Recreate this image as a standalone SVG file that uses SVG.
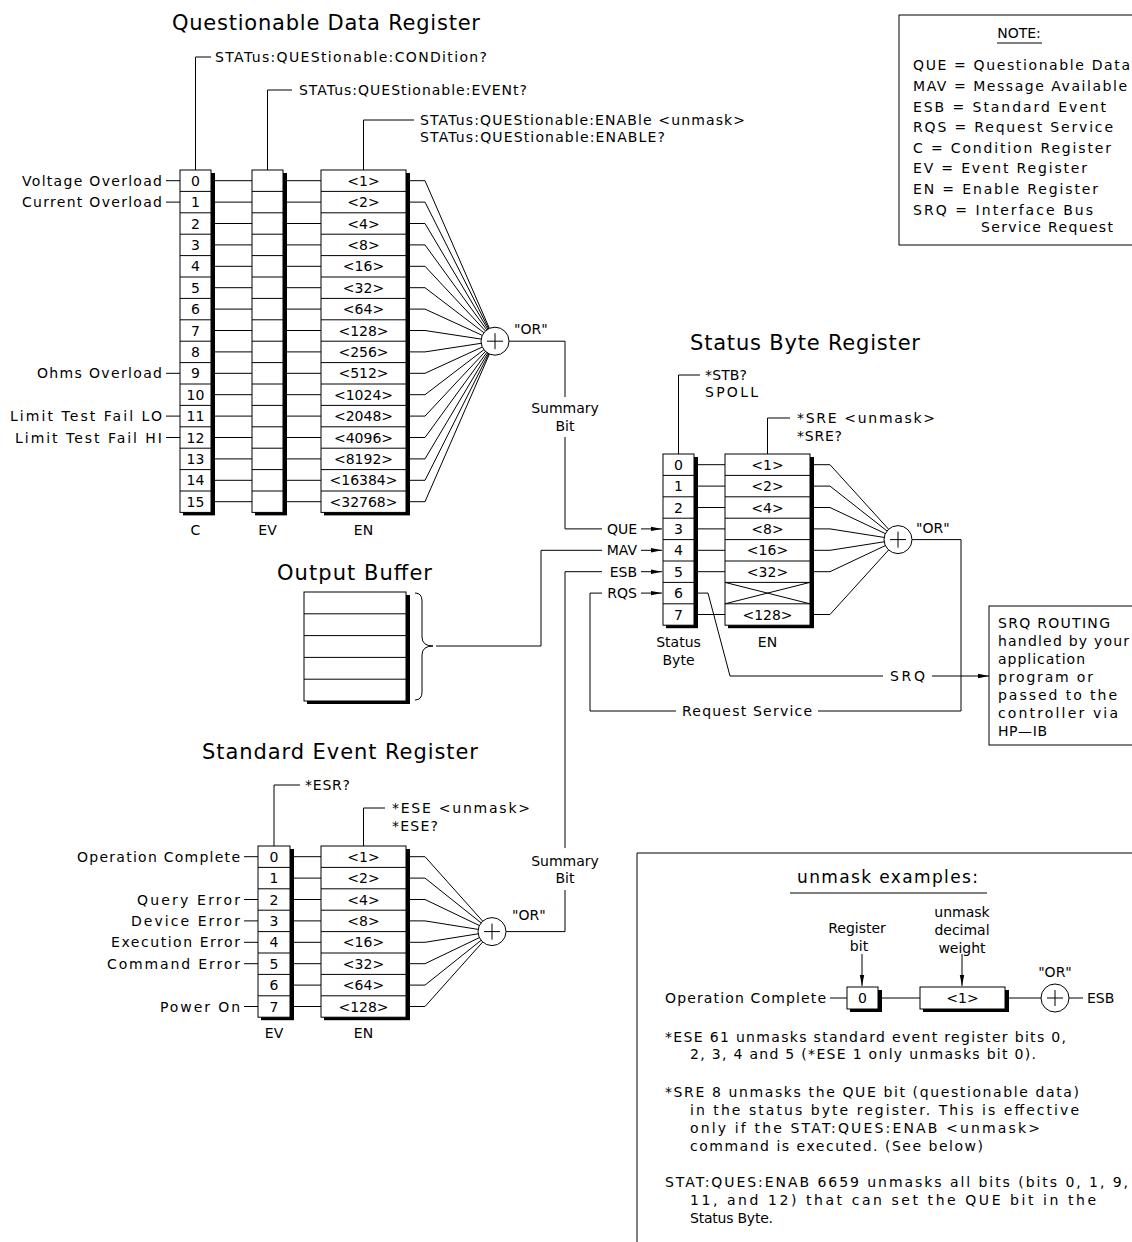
<svg xmlns="http://www.w3.org/2000/svg" width="1132" height="1242" viewBox="0 0 1132 1242">
<defs>
<style>
text{font-family:"DejaVu Sans","Liberation Sans",sans-serif;font-size:14px;fill:#000}
.tt{font-size:21px}
.c{text-anchor:middle}
.e{text-anchor:end}
.ln{fill:none;stroke:#000;stroke-width:1}
.bx{fill:#fff;stroke:#000;stroke-width:1}
.sh{fill:#000}
.ar{fill:none;stroke:#000;stroke-width:1;marker-end:url(#ah)}
.orc{fill:#fff;stroke:#000;stroke-width:1}
</style>
<marker id="ah" markerUnits="userSpaceOnUse" markerWidth="11" markerHeight="6" refX="11" refY="3" orient="auto">
<path d="M0,0.8 L11,3 L0,5.2 z" fill="#000"/>
</marker>
</defs>
<rect width="1132" height="1242" fill="#fff"/>

<g id="connectors">
<path class="ln" d="M214,180.7H252M214,202.1H252M214,223.5H252M214,244.9H252M214,266.3H252M214,287.7H252M214,309.1H252M214,330.5H252M214,351.9H252M214,373.3H252M214,394.7H252M214,416.1H252M214,437.5H252M214,458.9H252M214,480.3H252M214,501.7H252"/>
<path class="ln" d="M286,180.7H321M286,202.1H321M286,223.5H321M286,244.9H321M286,266.3H321M286,287.7H321M286,309.1H321M286,330.5H321M286,351.9H321M286,373.3H321M286,394.7H321M286,416.1H321M286,437.5H321M286,458.9H321M286,480.3H321M286,501.7H321"/>
<path class="ln" d="M409,180.7H425L495,341.2M409,202.1H425L495,341.2M409,223.5H425L495,341.2M409,244.9H425L495,341.2M409,266.3H425L495,341.2M409,287.7H425L495,341.2M409,309.1H425L495,341.2M409,330.5H425L495,341.2M409,351.9H425L495,341.2M409,373.3H425L495,341.2M409,394.7H425L495,341.2M409,416.1H425L495,341.2M409,437.5H425L495,341.2M409,458.9H425L495,341.2M409,480.3H425L495,341.2M409,501.7H425L495,341.2"/>
<path class="ln" d="M166,180.7H180M166,202.1H180M166,373.3H180M166,416.1H180M166,437.5H180"/>
<path class="ln" d="M195.5,170V57H211M267.5,170V90H292M363.5,170V120H414"/>
<path class="ln" d="M697,464.7H725M697,486.1H725M697,507.5H725M697,528.9H725M697,550.3H725M697,571.7H725M697,614.5H725"/>
<path class="ln" d="M813,464.7H830L898,539.6M813,486.1H830L898,539.6M813,507.5H830L898,539.6M813,528.9H830L898,539.6M813,550.3H830L898,539.6M813,571.7H830L898,539.6M813,614.5H830L898,539.6"/>
<path class="ln" d="M678.5,454V375H700M767.5,454V418H790"/>
<path class="ln" d="M697,593.1H708L730,676H883"/>
<path class="ar" d="M932,676H989"/>
<path class="ln" d="M912,539.6H961V711H818M676,711H590V593.1H602"/>
<path class="ln" d="M509,341.2H565V397M565,437V528.9H602"/>
<path class="ln" d="M602,550.3H541V646H436"/>
<path class="ln" d="M602,571.7H565V848M565,890V931.6H506"/>
<path class="ar" d="M641,528.9H662"/>
<path class="ar" d="M641,550.3H662"/>
<path class="ar" d="M641,571.7H662"/>
<path class="ar" d="M641,593.1H662"/>
<path class="ln" d="M244,856.7H258M244,899.5H258M244,920.9H258M244,942.3H258M244,963.7H258M244,1006.5H258"/>
<path class="ln" d="M293,856.7H321M293,878.1H321M293,899.5H321M293,920.9H321M293,942.3H321M293,963.7H321M293,985.1H321M293,1006.5H321"/>
<path class="ln" d="M409,856.7H425L492,931.6M409,878.1H425L492,931.6M409,899.5H425L492,931.6M409,920.9H425L492,931.6M409,942.3H425L492,931.6M409,963.7H425L492,931.6M409,985.1H425L492,931.6M409,1006.5H425L492,931.6"/>
<path class="ln" d="M274,846V785H300M363.5,846V808H385"/>
<path class="ln" d="M830,998H847M881,998H920M1008,998H1041M1069,998H1083"/>
<path class="ar" d="M862,954V986"/>
<path class="ar" d="M962,954V986"/>
</g>

<g id="qdr">
<text class="tt" x="172" y="30" textLength="308" lengthAdjust="spacing">Questionable Data Register</text>
<text x="215" y="62" textLength="272" lengthAdjust="spacing">STATus:QUEStionable:CONDition?</text>
<text x="299" y="95" textLength="228" lengthAdjust="spacing">STATus:QUEStionable:EVENt?</text>
<text x="420" y="125" textLength="325" lengthAdjust="spacing">STATus:QUEStionable:ENABle &lt;unmask&gt;</text>
<text x="420" y="142" textLength="245" lengthAdjust="spacing">STATus:QUEStionable:ENABLE?</text>
<text class="e" x="162" y="185.7" textLength="140" lengthAdjust="spacing">Voltage Overload</text>
<text class="e" x="162" y="207.1" textLength="140" lengthAdjust="spacing">Current Overload</text>
<text class="e" x="162" y="378.3" textLength="125" lengthAdjust="spacing">Ohms Overload</text>
<text class="e" x="162" y="421.1" textLength="152" lengthAdjust="spacing">Limit Test Fail LO</text>
<text class="e" x="162" y="442.5" textLength="147" lengthAdjust="spacing">Limit Test Fail HI</text>
<g id="qdr-c">
<rect class="sh" x="183" y="173" width="32" height="342.4"/>
<rect class="bx" x="180" y="170" width="31" height="342.4"/>
<path class="ln" d="M180,191.4H211M180,212.8H211M180,234.2H211M180,255.6H211M180,277H211M180,298.4H211M180,319.8H211M180,341.2H211M180,362.6H211M180,384H211M180,405.4H211M180,426.8H211M180,448.2H211M180,469.6H211M180,491H211"/>
<text class="c" x="195.5" y="185.7">0</text><text class="c" x="195.5" y="207.1">1</text><text class="c" x="195.5" y="228.5">2</text><text class="c" x="195.5" y="249.9">3</text><text class="c" x="195.5" y="271.3">4</text><text class="c" x="195.5" y="292.7">5</text><text class="c" x="195.5" y="314.1">6</text><text class="c" x="195.5" y="335.5">7</text><text class="c" x="195.5" y="356.9">8</text><text class="c" x="195.5" y="378.3">9</text><text class="c" x="195.5" y="399.7">10</text><text class="c" x="195.5" y="421.1">11</text><text class="c" x="195.5" y="442.5">12</text><text class="c" x="195.5" y="463.9">13</text><text class="c" x="195.5" y="485.3">14</text><text class="c" x="195.5" y="506.7">15</text>
<text class="c" x="195.5" y="535">C</text>
</g>
<g id="qdr-ev">
<rect class="sh" x="255" y="173" width="32" height="342.4"/>
<rect class="bx" x="252" y="170" width="31" height="342.4"/>
<path class="ln" d="M252,191.4H283M252,212.8H283M252,234.2H283M252,255.6H283M252,277H283M252,298.4H283M252,319.8H283M252,341.2H283M252,362.6H283M252,384H283M252,405.4H283M252,426.8H283M252,448.2H283M252,469.6H283M252,491H283"/>
<text class="c" x="267.5" y="535">EV</text>
</g>
<g id="qdr-en">
<rect class="sh" x="324" y="173" width="86" height="342.4"/>
<rect class="bx" x="321" y="170" width="85" height="342.4"/>
<path class="ln" d="M321,191.4H406M321,212.8H406M321,234.2H406M321,255.6H406M321,277H406M321,298.4H406M321,319.8H406M321,341.2H406M321,362.6H406M321,384H406M321,405.4H406M321,426.8H406M321,448.2H406M321,469.6H406M321,491H406"/>
<text class="c" x="363.5" y="185.7">&lt;1&gt;</text><text class="c" x="363.5" y="207.1">&lt;2&gt;</text><text class="c" x="363.5" y="228.5">&lt;4&gt;</text><text class="c" x="363.5" y="249.9">&lt;8&gt;</text><text class="c" x="363.5" y="271.3">&lt;16&gt;</text><text class="c" x="363.5" y="292.7">&lt;32&gt;</text><text class="c" x="363.5" y="314.1">&lt;64&gt;</text><text class="c" x="363.5" y="335.5">&lt;128&gt;</text><text class="c" x="363.5" y="356.9">&lt;256&gt;</text><text class="c" x="363.5" y="378.3">&lt;512&gt;</text><text class="c" x="363.5" y="399.7">&lt;1024&gt;</text><text class="c" x="363.5" y="421.1">&lt;2048&gt;</text><text class="c" x="363.5" y="442.5">&lt;4096&gt;</text><text class="c" x="363.5" y="463.9">&lt;8192&gt;</text><text class="c" x="363.5" y="485.3">&lt;16384&gt;</text><text class="c" x="363.5" y="506.7">&lt;32768&gt;</text>
<text class="c" x="363.5" y="535">EN</text>
</g>
<g id="qdr-or">
<circle class="orc" cx="495" cy="341.2" r="14"/>
<path class="ln" d="M487,341.2H503M495,333.2V349.2"/>
<text x="514" y="334">"OR"</text>
</g>
<text class="c" x="565" y="413">Summary</text>
<text class="c" x="565" y="431">Bit</text>
</g>

<g id="status-byte">
<text class="tt" x="690" y="350" textLength="230" lengthAdjust="spacing">Status Byte Register</text>
<text x="705" y="380" textLength="42" lengthAdjust="spacing">*STB?</text>
<text x="705" y="397" textLength="53" lengthAdjust="spacing">SPOLL</text>
<text x="797" y="423" textLength="138" lengthAdjust="spacing">*SRE &lt;unmask&gt;</text>
<text x="797" y="441" textLength="45" lengthAdjust="spacing">*SRE?</text>
<text class="e" x="637" y="533.9">QUE</text>
<text class="e" x="637" y="555.3">MAV</text>
<text class="e" x="637" y="576.7">ESB</text>
<text class="e" x="637" y="598.1">RQS</text>
<g id="sb-reg">
<rect class="sh" x="666" y="457" width="32" height="171.2"/>
<rect class="bx" x="663" y="454" width="31" height="171.2"/>
<path class="ln" d="M663,475.4H694M663,496.8H694M663,518.2H694M663,539.6H694M663,561H694M663,582.4H694M663,603.8H694"/>
<text class="c" x="678.5" y="469.7">0</text><text class="c" x="678.5" y="491.1">1</text><text class="c" x="678.5" y="512.5">2</text><text class="c" x="678.5" y="533.9">3</text><text class="c" x="678.5" y="555.3">4</text><text class="c" x="678.5" y="576.7">5</text><text class="c" x="678.5" y="598.1">6</text><text class="c" x="678.5" y="619.5">7</text>
<text class="c" x="678.5" y="647">Status</text>
<text class="c" x="678.5" y="665">Byte</text>
</g>
<g id="sb-en">
<rect class="sh" x="728" y="457" width="86" height="171.2"/>
<rect class="bx" x="725" y="454" width="85" height="171.2"/>
<path class="ln" d="M725,475.4H810M725,496.8H810M725,518.2H810M725,539.6H810M725,561H810M725,582.4H810M725,603.8H810M725,582.4L810,603.8M725,603.8L810,582.4"/>
<text class="c" x="767.5" y="469.7">&lt;1&gt;</text><text class="c" x="767.5" y="491.1">&lt;2&gt;</text><text class="c" x="767.5" y="512.5">&lt;4&gt;</text><text class="c" x="767.5" y="533.9">&lt;8&gt;</text><text class="c" x="767.5" y="555.3">&lt;16&gt;</text><text class="c" x="767.5" y="576.7">&lt;32&gt;</text><text class="c" x="767.5" y="619.5">&lt;128&gt;</text>
<text class="c" x="767.5" y="647">EN</text>
</g>
<g id="sb-or">
<circle class="orc" cx="898" cy="539.6" r="14"/>
<path class="ln" d="M890,539.6H906M898,531.6V547.6"/>
<text x="916" y="533">"OR"</text>
</g>
<text x="682" y="716" textLength="130" lengthAdjust="spacing">Request Service</text>
<text x="890" y="681" textLength="35" lengthAdjust="spacing">SRQ</text>
</g>

<g id="output-buffer">
<text class="tt" x="277" y="580" textLength="155" lengthAdjust="spacing">Output Buffer</text>
<rect class="sh" x="307" y="595" width="103" height="109"/>
<rect class="bx" x="304" y="592" width="102" height="109"/>
<path class="ln" d="M304,613.8H406M304,635.6H406M304,657.4H406M304,679.2H406"/>
<path class="ln" d="M415,593Q422,593 422,601V637Q422,646 433,646Q422,646 422,655V692Q422,700 415,700"/>
</g>

<g id="ser">
<text class="tt" x="202" y="759" textLength="276" lengthAdjust="spacing">Standard Event Register</text>
<text x="305" y="790" textLength="45" lengthAdjust="spacing">*ESR?</text>
<text x="392" y="813" textLength="138" lengthAdjust="spacing">*ESE &lt;unmask&gt;</text>
<text x="392" y="831" textLength="46" lengthAdjust="spacing">*ESE?</text>
<text class="e" x="240" y="861.7" textLength="163" lengthAdjust="spacing">Operation Complete</text>
<text class="e" x="240" y="904.5" textLength="103" lengthAdjust="spacing">Query Error</text>
<text class="e" x="240" y="925.9" textLength="109" lengthAdjust="spacing">Device Error</text>
<text class="e" x="240" y="947.3" textLength="129" lengthAdjust="spacing">Execution Error</text>
<text class="e" x="240" y="968.7" textLength="133" lengthAdjust="spacing">Command Error</text>
<text class="e" x="240" y="1011.5" textLength="80" lengthAdjust="spacing">Power On</text>
<g id="ser-ev">
<rect class="sh" x="261" y="849" width="33" height="171.2"/>
<rect class="bx" x="258" y="846" width="32" height="171.2"/>
<path class="ln" d="M258,867.4H290M258,888.8H290M258,910.2H290M258,931.6H290M258,953H290M258,974.4H290M258,995.8H290"/>
<text class="c" x="274" y="861.7">0</text><text class="c" x="274" y="883.1">1</text><text class="c" x="274" y="904.5">2</text><text class="c" x="274" y="925.9">3</text><text class="c" x="274" y="947.3">4</text><text class="c" x="274" y="968.7">5</text><text class="c" x="274" y="990.1">6</text><text class="c" x="274" y="1011.5">7</text>
<text class="c" x="274" y="1038">EV</text>
</g>
<g id="ser-en">
<rect class="sh" x="324" y="849" width="86" height="171.2"/>
<rect class="bx" x="321" y="846" width="85" height="171.2"/>
<path class="ln" d="M321,867.4H406M321,888.8H406M321,910.2H406M321,931.6H406M321,953H406M321,974.4H406M321,995.8H406"/>
<text class="c" x="363.5" y="861.7">&lt;1&gt;</text><text class="c" x="363.5" y="883.1">&lt;2&gt;</text><text class="c" x="363.5" y="904.5">&lt;4&gt;</text><text class="c" x="363.5" y="925.9">&lt;8&gt;</text><text class="c" x="363.5" y="947.3">&lt;16&gt;</text><text class="c" x="363.5" y="968.7">&lt;32&gt;</text><text class="c" x="363.5" y="990.1">&lt;64&gt;</text><text class="c" x="363.5" y="1011.5">&lt;128&gt;</text>
<text class="c" x="363.5" y="1038">EN</text>
</g>
<g id="ser-or">
<circle class="orc" cx="492" cy="931.6" r="14"/>
<path class="ln" d="M484,931.6H500M492,923.6V939.6"/>
<text x="512" y="920">"OR"</text>
</g>
<text class="c" x="565" y="866">Summary</text>
<text class="c" x="565" y="883">Bit</text>
</g>

<g id="note">
<rect class="bx" x="899" y="15" width="260" height="230"/>
<text class="c" x="1019" y="38">NOTE:</text>
<path class="ln" d="M997,43H1042"/>
<text x="913" y="70" textLength="217" lengthAdjust="spacing">QUE = Questionable Data</text>
<text x="913" y="91" textLength="214" lengthAdjust="spacing">MAV = Message Available</text>
<text x="913" y="112" textLength="193" lengthAdjust="spacing">ESB = Standard Event</text>
<text x="913" y="132" textLength="200" lengthAdjust="spacing">RQS = Request Service</text>
<text x="913" y="153" textLength="198" lengthAdjust="spacing">C = Condition Register</text>
<text x="913" y="173" textLength="174" lengthAdjust="spacing">EV = Event Register</text>
<text x="913" y="194" textLength="185" lengthAdjust="spacing">EN = Enable Register</text>
<text x="913" y="215" textLength="180" lengthAdjust="spacing">SRQ = Interface Bus</text>
<text x="981" y="232" textLength="132" lengthAdjust="spacing">Service Request</text>
</g>

<g id="srq-routing">
<rect class="bx" x="989" y="606" width="180" height="139"/>
<text x="998" y="628" textLength="112" lengthAdjust="spacing">SRQ ROUTING</text>
<text x="998" y="646" textLength="131" lengthAdjust="spacing">handled by your</text>
<text x="998" y="664" textLength="87" lengthAdjust="spacing">application</text>
<text x="998" y="682" textLength="95" lengthAdjust="spacing">program or</text>
<text x="998" y="700" textLength="119" lengthAdjust="spacing">passed to the</text>
<text x="998" y="718" textLength="120" lengthAdjust="spacing">controller via</text>
<text x="998" y="736" textLength="49" lengthAdjust="spacing">HP—IB</text>
</g>

<g id="unmask-examples">
<path class="ln" d="M637,1242V853H1140"/>
<text x="797" y="883" style="font-size:17px" textLength="181" lengthAdjust="spacing">unmask examples:</text>
<path class="ln" d="M790,893H987"/>
<text class="c" x="857" y="933">Register</text>
<text class="c" x="859" y="951">bit</text>
<text class="c" x="962" y="917">unmask</text>
<text class="c" x="962" y="935">decimal</text>
<text class="c" x="962" y="953">weight</text>
<text class="c" x="1055" y="977">"OR"</text>
<text x="665" y="1003" textLength="161" lengthAdjust="spacing">Operation Complete</text>
<rect class="sh" x="850" y="990" width="32" height="22"/>
<rect class="bx" x="847" y="987" width="31" height="22"/>
<text class="c" x="862.5" y="1003">0</text>
<rect class="sh" x="923" y="990" width="86" height="22"/>
<rect class="bx" x="920" y="987" width="85" height="22"/>
<text class="c" x="962.5" y="1003">&lt;1&gt;</text>
<circle class="orc" cx="1055" cy="998" r="14"/>
<path class="ln" d="M1047,998H1063M1055,990V1006"/>
<text x="1087" y="1003">ESB</text>
<text x="665" y="1042" textLength="401" lengthAdjust="spacing">*ESE 61 unmasks standard event register bits 0,</text>
<text x="690" y="1059" textLength="346" lengthAdjust="spacing">2, 3, 4 and 5 (*ESE 1 only unmasks bit 0).</text>
<text x="665" y="1097" textLength="414" lengthAdjust="spacing">*SRE 8 unmasks the QUE bit (questionable data)</text>
<text x="690" y="1115" textLength="389" lengthAdjust="spacing">in the status byte register. This is effective</text>
<text x="690" y="1133" textLength="350" lengthAdjust="spacing">only if the  STAT:QUES:ENAB &lt;unmask&gt;</text>
<text x="690" y="1151" textLength="293" lengthAdjust="spacing">command is executed. (See below)</text>
<text x="665" y="1187" textLength="463" lengthAdjust="spacing">STAT:QUES:ENAB 6659 unmasks all bits (bits 0, 1, 9,</text>
<text x="690" y="1205" textLength="406" lengthAdjust="spacing">11, and 12) that can set the QUE bit in the</text>
<text x="690" y="1223" textLength="83" lengthAdjust="spacing">Status Byte.</text>
</g>
</svg>
